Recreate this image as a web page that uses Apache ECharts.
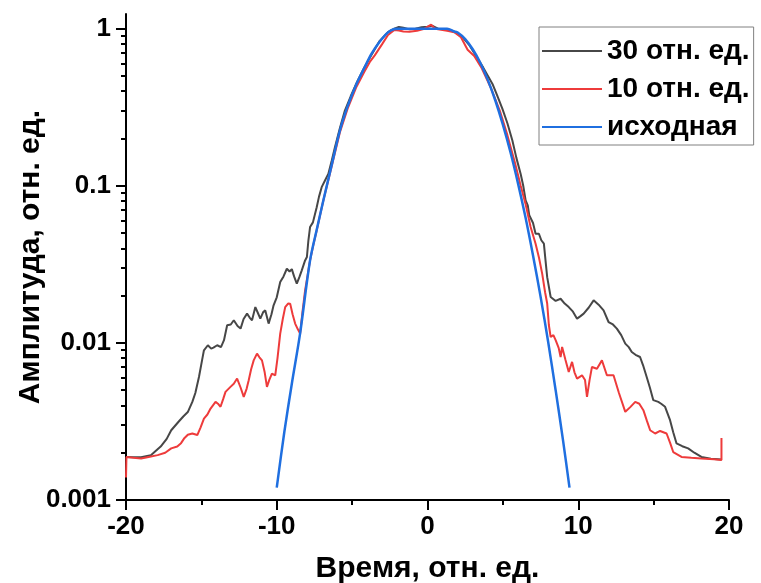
<!DOCTYPE html>
<html><head><meta charset="utf-8">
<script src="https://cdn.jsdelivr.net/npm/echarts@6/dist/echarts.min.js"></script>
<style>html,body{margin:0;padding:0;background:#fff}#c{width:761px;height:583px}</style>
</head><body><div id="c"></div>
<script>
const seriesNames = ['30 отн. ед.', '10 отн. ед.', 'исходная'];
const xTitle = 'Время, отн. ед.';
const yTitle = 'Амплитуда, отн. ед.';
const yMajor = [0.001, 0.01, 0.1, 1];
const yMinor = [0.002,0.003,0.004,0.005,0.006,0.007,0.008,0.009,
  0.02,0.03,0.04,0.05,0.06,0.07,0.08,0.09,
  0.2,0.3,0.4,0.5,0.6,0.7,0.8,0.9];

const black30 = [
[-20,0.00188],[-19.5,0.00187],[-19.0,0.00187],[-18.35,0.00193],[-17.7,0.00219],[-17.3,0.00245],[-17.0,0.00278],[-16.5,0.00316],[-16.2,0.0034],[-15.9,0.00363],[-15.6,0.00421],[-15.4,0.0048],[-15.16,0.00607],[-14.95,0.0078],[-14.83,0.00897],[-14.57,0.00966],[-14.35,0.0092],[-14.2,0.00933],[-13.95,0.00966],[-13.7,0.0094],[-13.5,0.0104],[-13.29,0.01294],[-13.05,0.0131],[-12.85,0.01393],[-12.6,0.0128],[-12.4,0.01233],[-12.2,0.0142],[-11.97,0.01535],[-11.8,0.0145],[-11.64,0.01393],[-11.42,0.0169],[-11.25,0.0155],[-11.09,0.01426],[-10.9,0.0157],[-10.76,0.0161],[-10.54,0.01327],[-10.35,0.0152],[-10.21,0.01734],[-10.0,0.0195],[-9.77,0.02438],[-9.55,0.0265],[-9.33,0.02965],[-9.15,0.0285],[-9.0,0.0295],[-8.85,0.0265],[-8.67,0.02382],[-8.5,0.0262],[-8.34,0.02897],[-8.12,0.0335],[-8.0,0.0352],[-7.9,0.045],[-7.79,0.0546],[-7.6,0.0585],[-7.35,0.0731],[-7.2,0.085],[-7.02,0.098],[-6.8,0.108],[-6.58,0.119],[-6.35,0.145],[-6.14,0.176],[-5.8,0.235],[-5.48,0.301],[-5.1,0.37],[-4.71,0.45],[-4.2,0.565],[-3.72,0.68],[-3.2,0.83],[-2.62,0.95],[-2.2,1.0],[-1.9,1.025],[-1.6,1.015],[-1.2,0.99],[-0.8,1.0],[-0.4,1.02],[0,1.03],[0.3,1.045],[0.7,1.0],[1.2,0.99],[1.78,0.955],[2.3,0.89],[2.8,0.78],[3.1,0.70],[3.7,0.565],[4.31,0.445],[4.6,0.38],[4.97,0.309],[5.3,0.25],[5.63,0.194],[5.9,0.15],[6.18,0.119],[6.35,0.1],[6.51,0.0807],[6.65,0.075],[6.75,0.065],[6.84,0.0664],[7.0,0.058],[7.17,0.0495],[7.39,0.0495],[7.55,0.045],[7.72,0.0428],[7.85,0.032],[7.94,0.0262],[8.17,0.0196],[8.5,0.0185],[8.83,0.0191],[9.1,0.0178],[9.37,0.0169],[9.65,0.0158],[9.92,0.01426],[10.15,0.0148],[10.36,0.01535],[10.7,0.0168],[11.02,0.01866],[11.35,0.0175],[11.68,0.0161],[12.01,0.01358],[12.3,0.0131],[12.56,0.01233],[12.85,0.0112],[13.12,0.0099],[13.35,0.0094],[13.55,0.00875],[13.8,0.0084],[14.1,0.00813],[14.3,0.0072],[14.54,0.00607],[14.75,0.0052],[14.98,0.00432],[15.31,0.00421],[15.5,0.0041],[15.76,0.00392],[16.09,0.00322],[16.3,0.0027],[16.52,0.00229],[16.9,0.0022],[17.29,0.00213],[17.7,0.002],[18.17,0.00188],[18.8,0.00183],[19.5,0.00181]
];

const red10 = [
[-20,0.00139],[-19.97,0.00188],[-19.5,0.00186],[-19.0,0.00184],[-18.5,0.00188],[-17.9,0.00193],[-17.4,0.002],[-17.0,0.00213],[-16.6,0.00219],[-16.35,0.0023],[-16.15,0.00246],[-15.9,0.0026],[-15.6,0.00265],[-15.27,0.00259],[-15.05,0.0029],[-14.83,0.0033],[-14.6,0.0035],[-14.39,0.00382],[-14.06,0.00421],[-13.9,0.0041],[-13.73,0.00392],[-13.55,0.0044],[-13.4,0.00488],[-13.07,0.00525],[-12.85,0.0055],[-12.63,0.00593],[-12.4,0.0052],[-12.19,0.00453],[-12.0,0.0051],[-11.86,0.00578],[-11.7,0.0068],[-11.53,0.00774],[-11.31,0.00855],[-11.15,0.0081],[-10.98,0.00774],[-10.8,0.0065],[-10.65,0.00525],[-10.5,0.0058],[-10.32,0.00638],[-10.1,0.00622],[-9.95,0.008],[-9.77,0.01146],[-9.6,0.0142],[-9.44,0.0169],[-9.25,0.0178],[-9.11,0.01778],[-8.95,0.0152],[-8.78,0.01327],[-8.6,0.0122],[-8.45,0.01146],[-8.3,0.0155],[-8.12,0.02158],[-7.95,0.027],[-7.79,0.0335],[-7.55,0.043],[-7.35,0.052],[-6.91,0.0807],[-6.4,0.128],[-5.81,0.219],[-5.3,0.31],[-4.71,0.427],[-4.2,0.53],[-3.8,0.62],[-3.5,0.676],[-3.0,0.8],[-2.62,0.912],[-2.2,0.98],[-1.9,0.975],[-1.6,0.96],[-1.2,0.955],[-0.7,0.97],[-0.2,1.0],[0.24,1.06],[0.5,1.0],[0.9,0.985],[1.3,0.97],[1.78,0.95],[2.22,0.881],[2.66,0.735],[3.1,0.67],[3.6,0.56],[4.2,0.42],[4.8,0.3],[5.3,0.21],[5.8,0.14],[6.18,0.1],[6.5,0.077],[6.84,0.0546],[7.17,0.0428],[7.4,0.0347],[7.61,0.0275],[7.8,0.021],[7.94,0.0178],[8.05,0.013],[8.17,0.0109],[8.35,0.0112],[8.5,0.0104],[8.7,0.0093],[8.83,0.00813],[8.93,0.00942],[9.15,0.0078],[9.37,0.00653],[9.59,0.00757],[9.75,0.0065],[9.92,0.00593],[10.25,0.00622],[10.45,0.0058],[10.58,0.00453],[10.75,0.0058],[10.91,0.00703],[11.24,0.00685],[11.57,0.00774],[11.9,0.00622],[12.34,0.00622],[12.7,0.0048],[13.12,0.00364],[13.45,0.0039],[13.78,0.00421],[14.05,0.0041],[14.32,0.00373],[14.55,0.0032],[14.77,0.00278],[15.1,0.00265],[15.43,0.00275],[15.86,0.00265],[16.1,0.0023],[16.3,0.00202],[16.85,0.00188],[17.5,0.00186],[18.17,0.00184],[19.0,0.00182],[19.5,0.0018],[19.5,0.00248]
];

const blueSrc = [
[-10,0.0012],[-9.5,0.0027],[-9,0.0055],[-8.45,0.0115],[-7.79,0.0335],[-7.3,0.055],[-6.91,0.0807],[-6.4,0.13],[-5.81,0.225],[-5.3,0.32],[-4.71,0.445],[-4.2,0.56],[-3.72,0.69],[-3.2,0.82],[-2.62,0.948],[-2.2,0.995],[-1.9,1.0],[1.3,1.0],[1.78,0.96],[2,0.945],[2.5,0.86],[3,0.74],[3.5,0.607],[4,0.472],[4.5,0.349],[5,0.245],[5.5,0.164],[6,0.104],[6.5,0.063],[7,0.036],[7.5,0.0197],[8,0.0102],[8.5,0.005],[9,0.00236],[9.42,0.0012]
];

const colors = ['#474747', '#ee3b3b', '#1f6fe0'];
const FONT = 'Liberation Sans, Arial, sans-serif';
const chart = echarts.init(document.getElementById('c'), null, {renderer: 'canvas'});
const axisCol = '#000';
chart.setOption({
  animation: false,
  backgroundColor: '#fff',
  grid: {left: 126, right: 32, top: 14, bottom: 83, containLabel: false, outerBoundsMode: 'none'},
  legend: {
    orient: 'vertical', left: 539, top: 27,
    padding: [10, 4, 4, 2], itemWidth: 60, itemHeight: 14, itemGap: 10,
    borderColor: '#808080', borderWidth: 1, backgroundColor: '#fff',
    itemStyle: {opacity: 0},
    textStyle: {fontFamily: FONT, fontSize: 28, fontWeight: 'bold', color: '#000'},
    data: seriesNames
  },
  xAxis: {
    type: 'value', min: -20, max: 20, interval: 10,
    name: xTitle, nameLocation: 'middle', nameGap: 54, nameMoveOverlap: false,
    nameTextStyle: {fontFamily: FONT, fontSize: 30, fontWeight: 'bold', color: '#000'},
    axisLine: {onZero: false, lineStyle: {color: axisCol, width: 2}},
    axisTick: {length: 10, lineStyle: {color: axisCol, width: 2}},
    minorTick: {show: true, splitNumber: 2, length: 5, lineStyle: {color: axisCol, width: 2}},
    axisLabel: {fontFamily: FONT, fontSize: 26, fontWeight: 'bold', color: '#000', margin: 14},
    splitLine: {show: false}
  },
  yAxis: [{
    type: 'log', logBase: 10, min: 0.001, max: 1.24,
    name: yTitle, nameLocation: 'middle', nameGap: 80, nameRotate: 90, nameMoveOverlap: false,
    nameTextStyle: {fontFamily: FONT, fontSize: 30, fontWeight: 'bold', color: '#000'},
    axisLine: {show: true, onZero: false, lineStyle: {color: axisCol, width: 2}},
    axisTick: {show: true, length: 10, customValues: yMajor, lineStyle: {color: axisCol, width: 2}},
    axisLabel: {fontFamily: FONT, fontSize: 26, fontWeight: 'bold', color: '#000', margin: 15,
      customValues: yMajor, formatter: v => String(+Number(v).toPrecision(3))},
    splitLine: {show: false}
  }, {
    type: 'log', logBase: 10, min: 0.001, max: 1.24, position: 'left', offset: 0,
    axisLine: {show: false, onZero: false},
    axisTick: {show: true, length: 5, customValues: yMinor, lineStyle: {color: axisCol, width: 2}},
    axisLabel: {show: false},
    splitLine: {show: false}
  }],
  series: [
    {name: seriesNames[0], type: 'line', data: black30, symbol: 'none', showSymbol: false,
      lineStyle: {color: colors[0], width: 2}, itemStyle: {color: colors[0]}},
    {name: seriesNames[1], type: 'line', data: red10, symbol: 'none', showSymbol: false,
      lineStyle: {color: colors[1], width: 2}, itemStyle: {color: colors[1]}},
    {name: seriesNames[2], type: 'line', data: blueSrc, symbol: 'none', showSymbol: false, smooth: 0.3,
      lineStyle: {color: colors[2], width: 2.5}, itemStyle: {color: colors[2]}}
  ]
});
</script></body></html>
